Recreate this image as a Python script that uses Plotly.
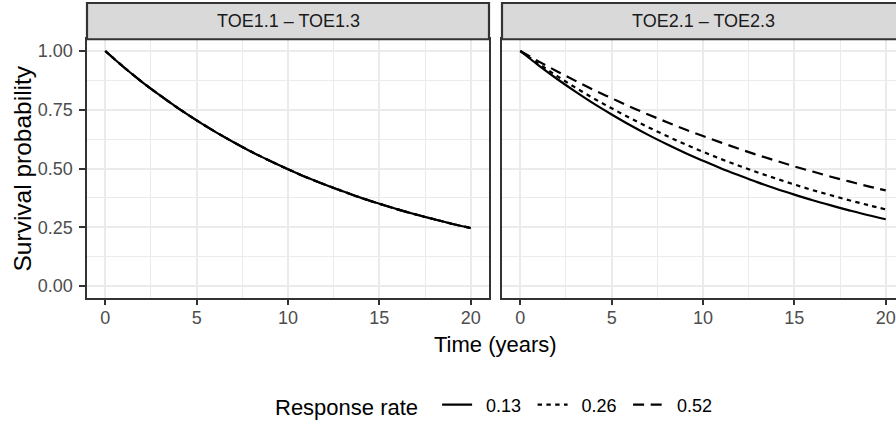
import plotly.graph_objects as go

# Survival curves, years 0-20
years = list(range(21))

# TOE1.1 - TOE1.3: survival does not depend on the response rate
toe1_surv = [1.000, 0.932, 0.869, 0.811, 0.756, 0.705, 0.657, 0.613, 0.571, 0.533,
             0.497, 0.463, 0.432, 0.403, 0.375, 0.350, 0.326, 0.304, 0.284, 0.264, 0.247]

# TOE2.1 - TOE2.3: one curve per response rate
toe2_surv_013 = [1.000, 0.939, 0.882, 0.828, 0.777, 0.730, 0.685, 0.643, 0.604, 0.567,
                 0.533, 0.500, 0.470, 0.441, 0.414, 0.389, 0.365, 0.343, 0.322, 0.302, 0.284]
toe2_surv_026 = [1.000, 0.946, 0.894, 0.845, 0.799, 0.756, 0.715, 0.676, 0.639, 0.604,
                 0.571, 0.540, 0.511, 0.483, 0.457, 0.432, 0.408, 0.386, 0.365, 0.345, 0.326]
toe2_surv_052 = [1.000, 0.956, 0.914, 0.874, 0.835, 0.799, 0.763, 0.730, 0.698, 0.667,
                 0.638, 0.610, 0.583, 0.557, 0.533, 0.509, 0.487, 0.465, 0.445, 0.425, 0.407]

response_rates = ["0.13", "0.26", "0.52"]
panel_titles = ["TOE1.1 – TOE1.3", "TOE2.1 – TOE2.3"]
x_ticks = [0, 5, 10, 15, 20]
y_ticks = [0.0, 0.25, 0.5, 0.75, 1.0]

W, H = 896, 425
FONT = "Liberation Sans, Arial, Helvetica, sans-serif"
LW = 2.2
# solid / dotted / dashed, with dash lengths allowing for round line ends
dash_styles = ["solid", "4.4px,4.4px", "11px,6.6px"]


def px(xp):
    return xp / W


def py(yp):
    return 1 - yp / H


fig = go.Figure()

left_series = [toe1_surv, toe1_surv, toe1_surv]
right_series = [toe2_surv_013, toe2_surv_026, toe2_surv_052]

for rate, dash, ys in zip(response_rates, dash_styles, left_series):
    fig.add_trace(go.Scatter(x=years, y=ys, mode="lines", xaxis="x", yaxis="y",
                             line=dict(color="black", width=LW, dash=dash, shape="spline"),
                             name=rate, legendgroup=rate, showlegend=False,
                             hoverinfo="skip"))
for rate, dash, ys in zip(response_rates, dash_styles, right_series):
    fig.add_trace(go.Scatter(x=years, y=ys, mode="lines", xaxis="x2", yaxis="y2",
                             line=dict(color="black", width=LW, dash=dash, shape="spline"),
                             name="\u2002" + rate, legendgroup=rate, showlegend=True,
                             hoverinfo="skip"))

# panel geometry (pixels)
left_x0, left_x1 = 87, 489
right_x0, right_x1 = 502, 896
panel_top, panel_bottom = 39.25, 297.75
px_per_year = (left_x1 - left_x0) / 22.0

grid = dict(showgrid=True, gridcolor="#EBEBEB", gridwidth=LW)
minor_x = dict(dtick=2.5, showgrid=True, gridcolor="#EBEBEB", gridwidth=1.1, ticks="")
minor_y = dict(dtick=0.125, showgrid=True, gridcolor="#EBEBEB", gridwidth=1.1, ticks="")
axis_common = dict(showline=True, linecolor="#333333", linewidth=LW, zeroline=False,
                   ticks="outside", ticklen=5.5, tickwidth=LW, tickcolor="#333333",
                   tickfont=dict(size=18, color="#4D4D4D", family=FONT), **grid)

fig.update_layout(
    width=W, height=H,
    margin=dict(l=0, r=0, t=0, b=0, autoexpand=False),
    paper_bgcolor="white", plot_bgcolor="white",
    font=dict(family=FONT, color="black"),
    xaxis=dict(domain=[px(left_x0), px(left_x1)], range=[-1, 21], tickvals=x_ticks,
               mirror=True, anchor="y", minor=minor_x, ticklabelstandoff=-3, **axis_common),
    xaxis2=dict(domain=[px(right_x0), px(right_x1)],
                range=[-1, -1 + (right_x1 - right_x0) / px_per_year], tickvals=x_ticks,
                mirror=True, anchor="y2", minor=minor_x, ticklabelstandoff=-3, **axis_common),
    yaxis=dict(domain=[py(panel_bottom), py(panel_top)], range=[-0.05, 1.05],
               tickvals=y_ticks, tickformat=".2f", mirror=True, anchor="x",
               minor=minor_y, ticklabelstandoff=3, **axis_common),
    yaxis2=dict(domain=[py(panel_bottom), py(panel_top)], range=[-0.05, 1.05],
                tickvals=y_ticks, matches="y", anchor="x2", showline=True,
                linecolor="#333333", linewidth=LW, mirror=False, zeroline=False,
                showticklabels=False, ticks="", minor=minor_y, **grid),
    legend=dict(orientation="h", x=px(273), xanchor="left", y=py(406), yanchor="middle",
                title=dict(text="Response rate\u2002", side="left",
                           font=dict(size=22, color="black", family=FONT)),
                font=dict(size=18, color="black", family=FONT),
                bgcolor="rgba(0,0,0,0)", borderwidth=0,
                entrywidth=50.5, entrywidthmode="pixels"),
    showlegend=True,
)

# facet strips
strip_top = 3
for (x0, x1), title in zip([(left_x0, left_x1), (right_x0, right_x1 + 20)], panel_titles):
    fig.add_shape(type="rect", xref="paper", yref="paper",
                  x0=px(x0), x1=px(x1), y0=py(panel_top), y1=py(strip_top),
                  fillcolor="#D9D9D9", line=dict(color="#333333", width=LW), layer="above")
for title, center in zip(panel_titles, [(left_x0 + left_x1) / 2, (right_x0 + 904) / 2]):
    fig.add_annotation(text=title, xref="paper", yref="paper", x=px(center),
                       y=py((strip_top + panel_top) / 2), xanchor="center", yanchor="middle",
                       showarrow=False, font=dict(size=18, color="#1A1A1A", family=FONT))

# axis titles
fig.add_annotation(text="Time (years)", xref="paper", yref="paper", x=px(495.5),
                   y=py(344), xanchor="center", yanchor="middle", showarrow=False,
                   font=dict(size=22, color="black", family=FONT))
fig.add_annotation(text="Survival probability", xref="paper", yref="paper", x=px(22),
                   y=py((panel_top + panel_bottom) / 2), xanchor="center", yanchor="middle",
                   textangle=-90, showarrow=False,
                   font=dict(size=24.5, color="black", family=FONT))

fig.write_html("out.html")
